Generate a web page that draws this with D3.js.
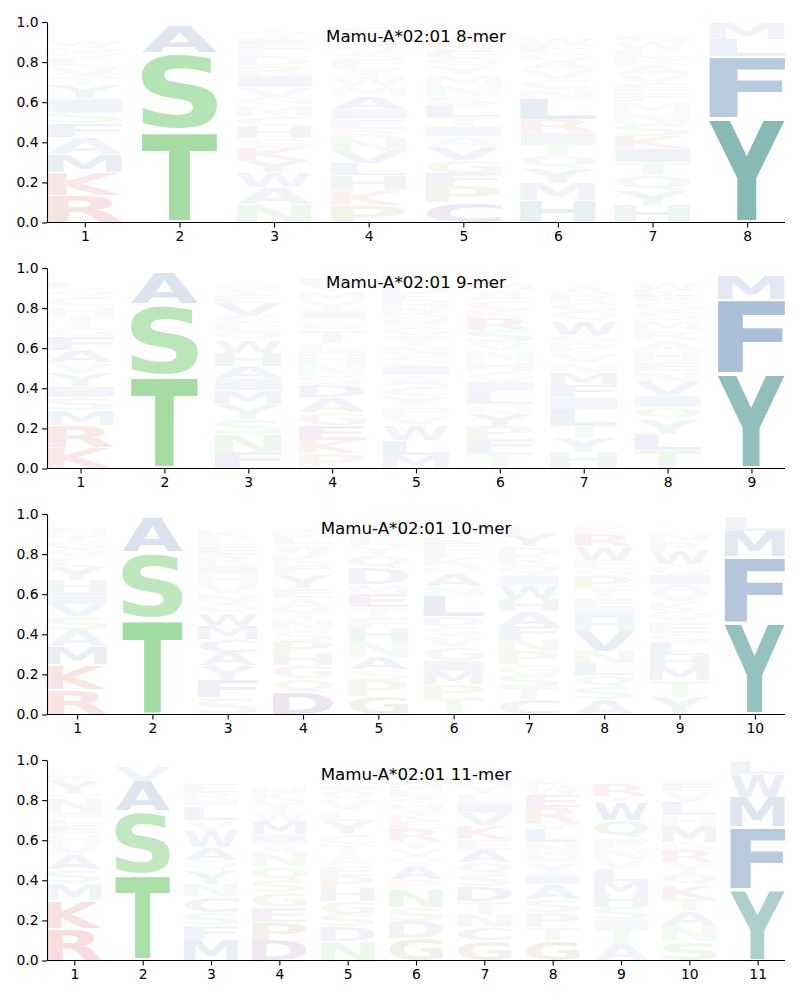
<!DOCTYPE html>
<html><head><meta charset="utf-8">
<script src="https://cdn.jsdelivr.net/npm/d3@7"></script>
<style>body{margin:0;background:#fff} text{font-family:"DejaVu Sans",sans-serif}</style>
</head><body><svg id="c" width="800" height="1000"></svg>
<script>
// ---- data: one string per position, letters bottom→top with probability in percent ----
const titles = ["Mamu-A*02:01 8-mer", "Mamu-A*02:01 9-mer", "Mamu-A*02:01 10-mer", "Mamu-A*02:01 11-mer"];
const yTicks = [0, 0.2, 0.4, 0.6, 0.8, 1.0];

const logo8 = [
  "R13.5 K11.5 M9 A8.5 F7 S6 I6.5 Y6.5 T5 V5 L4 Q3 G3 W3 E2 N2 H2 D1 C1 P1",
  "T46 S38.5 A14 V0.5 L0.5 Q0.5",
  "N9 A8.5 W7.5 Y6 K6 S5 H6 C5 M5.5 G4 V5 I6 R5 D4 L4 E3 F3 Q3 T2 P2",
  "P8.5 K7.5 H7.5 L6 V6 N6 R5 E5 I5 A6.5 M5 W5 Y4 F4 S4 Q3 G3 D2 T2 C3",
  "C10 P8 F6.5 G6.5 V7 A5 I5 T4.5 L6 S4.5 N5.5 M5 Y4.5 Q4 E3 W3 R3 K2.5 H2 D2",
  "H11 M8.5 Y7.5 Q6.5 T6 I5.5 R6.5 L10 N5 C5 V5 A4 G4 F4 W3 S2 E2 K2 P1.5 D1",
  "H8.5 Y7.5 Q7.5 T6.5 I7 K6 S6 N5.5 M5.5 F5 E4 V5 A4.5 R4 L3.5 W4 G3.5 C2 P2 D1",
  "Y52 F31 L8.5 M8 I0.5"
];
const logo9 = [
  "K10.5 R11 M7.5 S6.5 I5.5 Y6.5 V5.5 A6 F6.5 G5 T5.5 H5 C5 Q3.5 L3 E2 N2 W1.5 D1 P1",
  "T46.5 S35.5 A16 V1 L0.5 Q0.5",
  "F8 N9 S7.5 Y7.5 M7 I6 A6 H6.5 W6 Q5 L4 C4 V6 E4 T3 G3 R2 K1.5 D1 P1",
  "P7.5 K6.5 E7.5 G6.5 A7.5 D6 S5 N5.5 H5.5 L5 T6.5 Q3 R2.5 I4 Y5 M5 V3 F3 W2 C2",
  "M6.5 L7.5 W7.5 V4 F5 Y5.5 C5 A5.5 I5 S5 N5 T5 G4.5 Q4.5 R4 H4 E4 D3.5 K3 P3",
  "T8 F6.5 P6.5 Y6 Q5 L6.5 I5 G5 H5 N5.5 V4 S6 R6 K4 C5 A5 M3 E2 W1.5 D1",
  "H8 Y7.5 T6 L8 I6 F6 M6 N5 V5 P5.5 G3.5 W7 Q5 C4 R4 A4 S2.5 K2 E2 D1",
  "T9 L8 Y7.5 Q6 I6 V6.5 N5.5 E5 H5.5 A5 R5 M5 S5 G4 F3 K3 W3 C2 P1 D1",
  "Y47 F37 M12.5 L2.5 I1"
];
const logo10 = [
  "R12.5 K12.5 M9 A8 S7 V6 I6 H6 Y6.5 L5 Q4 G4 T3 N3 C2 F2 E1.5 D1 W0.5 P0.5",
  "T48 S33 A17 Y1 V0.5 L0.5",
  "S8.5 F8.5 Y7.5 A6.5 C6.5 M6.5 W6 Q5.5 N5 V4.5 H5.5 I4 R5 E5 L4 K3 G2.5 T2 P1.5 D1",
  "D11 Q7 G6.5 H6 P6 S5.5 N5.5 T5 A5.5 E5 Y7 F5 K5 W5 L3 M3 I2 V1.5 R1 C0.5",
  "G9 P8 S5.5 A6 N8 H6.5 F5.5 T5 E6.5 M5 D8 Q6.5 Y5 L4 W3 I2 K2 R2 V1.5 C1",
  "T8 P7 M6.5 I5.5 G6.5 V5.5 S5 D5 L10 N5 A6 Q4 K4 E4 F3 R3 W2.5 Y2 H1.5 C1",
  "C7.5 T6 S6 G5.5 P6.5 N6 F6.5 A7.5 H6 W7 I5 Q5 R4.5 D5 Y6 L3 K2 E2 M1.5 V1",
  "A7.5 S6 Q6 L6 N6 V10 H6.5 I5 E5 T5 P6 G4 F4 W7 R6 K3 Y2 M1.5 C1 D0.5",
  "Y8.5 T8.5 M6.5 H6 L6 S5 E5.5 Q5.5 K4.5 V4.5 A4.5 I5 G5 W6.5 R5 N3 F2.5 P2 D1.5 C1",
  "Y46 F32.5 M13 L7.5 W0.5 I0.5"
];
const logo11 = [
  "R16 K14 M8.5 S7 A7.5 V5.5 H5 E5 L3 I3 N6.5 Q3 Y6 F3 T2 G2 W1.5 C1 D0.5 P0.5",
  "T43 S31.5 A15 V7.5 Y1 L1 Q0.5",
  "M10 F7.5 S6.5 C8 N6 Y6.5 Q5.5 A6.5 W8.5 V5 L7 I3 R4 E4 H2 K1.5 G1.5 T1.5 P1 D0.5",
  "D10 P9 E7.5 G7.5 S6 Q7 N6.5 A5 I4.5 M6.5 W5 Y5 K4.5 H3 R2 T2 L1.5 V1.5 F1 C0.5",
  "N9.5 D7.5 S6 G6.5 H6.5 P6 E5.5 A5 T5.5 C5 Y6.5 L5.5 V5.5 Q4 I3 K2.5 F2 R1.5 M1 W0.5",
  "G11 D8.5 S7 N9 P5 A7 Q4 V4 Y4 R6 E4 K3 T3 H3 C3 L3 M3 I2 F2 W1",
  "G10 C6.5 N6.5 T6.5 D7.5 S6 Q6 A6 E5.5 K7 V6 I5.5 L4 Y4 H3 R2 P1.5 F1 M1 W0.5",
  "G10 T6.5 P7.5 S6.5 A7.5 I5 Y5.5 Q5 N5.5 L6.5 V3 R8 E6 W4 K3 F2 H1.5 D1 C0.5 M0.5",
  "A8 T8.5 I4 S6 H6.5 M6.5 L6 V5 N5.5 F5 Q9 W9 Y3 R6 E2 K2 G1.5 P1 D1 C0.5",
  "S9.5 N8 A7 T6 K7 Q6 Y5.5 R6 G4 M8 H5.5 L6.5 V5.5 E3 I2 F2 W2 D1 C1 P1",
  "Y35.5 F31 M15 W11.5 L6.5 I0.5"
];
const logos = [logo8, logo9, logo10, logo11];

// ---- styles ----
const aaColor = {
  S:"#3bb53b", T:"#3bb53b", N:"#3bb53b", Q:"#3bb53b",
  A:"#1d5195", F:"#1d5195", I:"#1d5195", L:"#1d5195", M:"#1d5195", V:"#1d5195", W:"#1d5195",
  Y:"#187875", H:"#187875",
  K:"#cc2a2a", R:"#cc2a2a",
  D:"#5a1080", E:"#7a1070", C:"#6a2080",
  P:"#807000", G:"#807000"
};
const panelTops = [22, 268, 514, 760];
const panelH = 200.5, left = 47, right = 785;
const FS = 100;

const svg = d3.select("#c");
const cv = document.createElement("canvas").getContext("2d");
cv.font = `bold ${FS}px "DejaVu Sans"`;
const metr = {};
function gm(ch){
  if(!metr[ch]){ const t = cv.measureText(ch);
    metr[ch] = {l:t.actualBoundingBoxLeft, r:t.actualBoundingBoxRight, a:t.actualBoundingBoxAscent, d:t.actualBoundingBoxDescent}; }
  return metr[ch];
}

logos.forEach((cols, pi) => {
  const top = panelTops[pi], n = cols.length;
  const x = d3.scaleLinear().domain([0.6, n + 0.4]).range([left, right]);
  const y = d3.scaleLinear().domain([0, 1]).range([top + panelH, top]);
  const g = svg.append("g");

  cols.forEach((s, ci) => {
    let items = s.split(" ").map(t => ({aa: t[0], p: +t.slice(1) / 100}));
    const tot = d3.sum(items, d => d.p);
    if (tot > 1) items.forEach(d => d.p /= tot);
    let cum = 0;
    const pos = ci + 1;
    items.forEach(d => {
      const y0 = cum, y1 = cum + d.p; cum = y1;
      const x0 = x(pos - 0.4), x1 = x(pos + 0.4);
      const yb = y(y0), yt = y(y1);
      const pad = (yb - yt) * 0.025;
      const bt = yt + pad, bb = yb - pad;
      const m = gm(d.aa);
      const sx = (x1 - x0) / (m.l + m.r), sy = (bb - bt) / (m.a + m.d);
      if (!(sy > 0)) return;
      g.append("text")
        .attr("transform", `translate(${x0 + m.l * sx},${bb - m.d * sy}) scale(${sx},${sy})`)
        .attr("font-size", FS).attr("font-weight", "bold")
        .style("font-family", '"DejaVu Sans"')
        .attr("fill", aaColor[d.aa]).attr("fill-opacity", Math.min(1, d.p))
        .text(d.aa);
    });
  });

  const ya = d3.axisLeft(y).tickValues(yTicks).tickFormat(d3.format(".1f")).tickSize(4.9).tickPadding(3.5).tickSizeOuter(0);
  const xa = d3.axisBottom(x).tickValues(d3.range(1, n + 1)).tickFormat(d3.format("d")).tickSize(4.9).tickPadding(3.5).tickSizeOuter(0);
  const gy = svg.append("g").attr("transform", `translate(${left},0)`).call(ya);
  const gx = svg.append("g").attr("transform", `translate(0,${top + panelH})`).call(xa);
  [gy, gx].forEach(a => {
    a.selectAll("text").attr("font-size", 13.9).style("font-family", '"DejaVu Sans"').attr("fill", "#000");
    a.selectAll("line,path").attr("stroke", "#000").attr("stroke-width", 1.1);
  });
  gx.select(".domain").attr("d", `M${left},0H${right}`);

  svg.append("text").attr("x", (left + right) / 2).attr("y", top + 20)
    .attr("text-anchor", "middle").attr("font-size", 16.67)
    .style("font-family", '"DejaVu Sans"').text(titles[pi]);
});
</script></body></html>
